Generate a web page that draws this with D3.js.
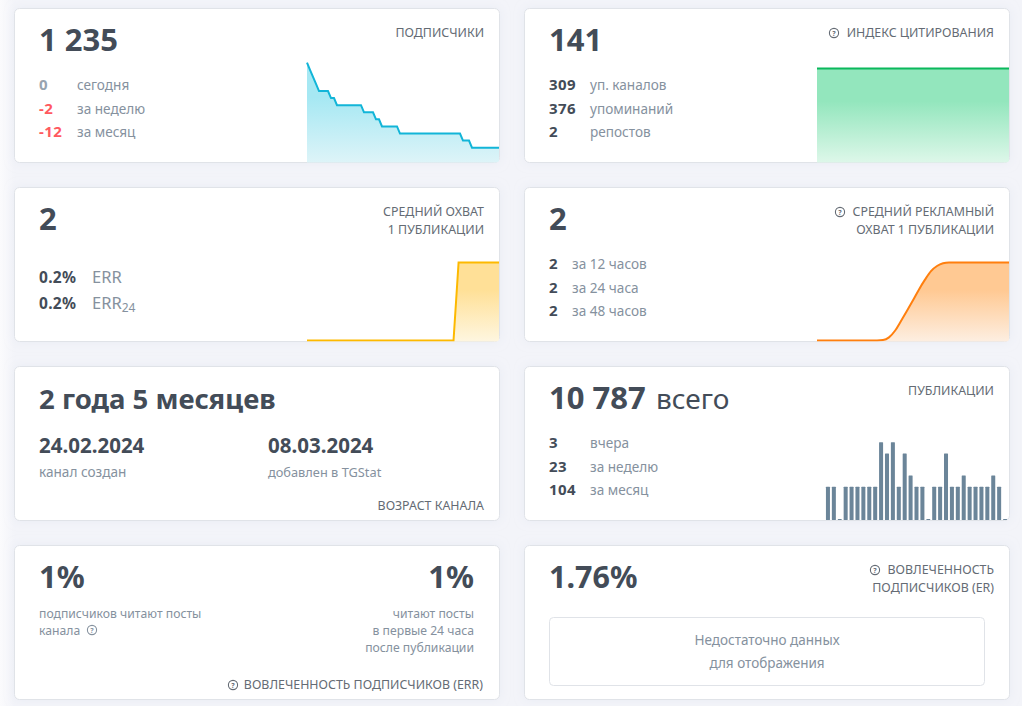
<!DOCTYPE html>
<html>
<head>
<meta charset="utf-8">
<script src="https://cdn.jsdelivr.net/npm/d3@7"></script>
<style>
  html, body { margin: 0; padding: 0; overflow: hidden; }
  body { background: linear-gradient(to right, #fbfbfd 0, #f3f4f9 14px); }
  svg { display: block; }
  text { font-family: "Noto Sans", "Open Sans", sans-serif; }
  .big { font-size: 31px; font-weight: 700; fill: #434c58; }
  .age { font-size: 27.5px; font-weight: 700; fill: #434c58; }
  .big-light { font-size: 28px; font-weight: 400; fill: #434c58; }
  .date { font-size: 20.5px; font-weight: 700; fill: #434c58; }
  .num { font-size: 15px; font-weight: 700; fill: #434c58; letter-spacing: 0.4px; }
  .pct { font-size: 15.5px; font-weight: 700; fill: #434c58; letter-spacing: 0.3px; }
  .lab { font-size: 13.6px; fill: #85919e; }
  .err { font-size: 16.5px; fill: #85919e; }
  .small { font-size: 12.2px; fill: #85919e; }
  .cap { font-size: 12.4px; fill: #646b74; }
  .note { font-size: 13.5px; fill: #85919e; }
</style>
</head>
<body>
<div id="chart"></div>
<script>
var svgWidth = 1022;
var svgHeight = 706;

// subscribers over the last period
var subscribers = [1247, 1246, 1245, 1244, 1243, 1243, 1243, 1243, 1242, 1242,
  1241, 1241, 1241, 1241, 1241, 1241, 1241, 1241, 1241, 1240,
  1240, 1240, 1240, 1239, 1239, 1238, 1238, 1238, 1238, 1238,
  1238, 1237, 1237, 1237, 1237, 1237, 1237, 1237, 1237, 1237,
  1237, 1237, 1237, 1237, 1237, 1237, 1237, 1237, 1237, 1237,
  1237, 1237, 1236, 1236, 1236, 1235, 1235, 1235, 1235, 1235,
  1235, 1235, 1235, 1235, 1235];
var citation = [141, 141, 141, 141, 141, 141, 141, 141, 141, 141, 141, 141];
var reach = [0, 0, 0, 0, 0, 0, 0, 0, 0, 0, 0, 0, 0, 0, 0, 0, 0, 0, 0, 0,
  0, 0, 0, 0, 0, 0, 0, 0, 0, 0, 2, 2, 2, 2, 2, 2, 2, 2, 2];
var adReach = [0, 0, 0, 0, 0, 0, 0, 0, 0, 0, 0, 0.01, 0.08, 0.25, 0.5, 0.76, 1.03,
  1.31, 1.56, 1.78, 1.91, 1.98, 2, 2, 2, 2, 2, 2, 2, 2, 2, 2, 2];
var posts = [3, 3, 0, 3, 3, 3, 3, 3, 3, 7, 6, 7, 3, 6, 4, 3, 3, 0, 3, 3, 6, 3, 3, 4, 3, 3, 3, 3, 4, 3, 0];

var subscriberStats = ["0", "-2", "-12"];
var subscriberLabels = ["сегодня", "за неделю", "за месяц"];
var citationStats = ["309", "376", "2"];
var citationLabels = ["уп. каналов", "упоминаний", "репостов"];
var adStats = ["2", "2", "2"];
var adLabels = ["за 12 часов", "за 24 часа", "за 48 часов"];
var postStats = ["3", "23", "104"];
var postLabels = ["вчера", "за неделю", "за месяц"];

var svg = d3.select("#chart")
  .append("svg")
  .attr("width", svgWidth)
  .attr("height", svgHeight);

var defs = svg.append("defs");

// soft card shadow
var shadow = defs.append("filter").attr("id", "shadow")
  .attr("x", "-5%").attr("y", "-15%").attr("width", "110%").attr("height", "130%");
shadow.append("feDropShadow")
  .attr("dx", 0).attr("dy", 0).attr("stdDeviation", 5)
  .attr("flood-color", "#dfe3ee").attr("flood-opacity", 0.5);

var cardW = 484;
var cardH = 153;
var leftX = 15;
var rightX = 525;
var rowY = [9, 188, 367, 546];

function card(x, y, id) {
  var g = svg.append("g").attr("transform", `translate(${x}, ${y})`);
  g.append("rect")
    .attr("x", -0.5).attr("y", -0.5)
    .attr("width", cardW + 1).attr("height", cardH + 1)
    .attr("rx", 5)
    .attr("fill", "#fff")
    .attr("stroke", "#e0e3e8")
    .attr("filter", "url(#shadow)");
  defs.append("clipPath").attr("id", id)
    .append("rect")
    .attr("x", 0).attr("y", 0)
    .attr("width", cardW + 0.5).attr("height", cardH + 0.5)
    .attr("rx", 4);
  return g;
}

function label(g, x, y, cls, str, anchor) {
  return g.append("text")
    .attr("x", x).attr("y", y)
    .attr("class", cls)
    .attr("text-anchor", anchor || "start")
    .text(str);
}

function helpIcon(g, cx, cy, color) {
  g.append("circle")
    .attr("cx", cx).attr("cy", cy).attr("r", 4.6)
    .attr("fill", "none")
    .attr("stroke", color)
    .attr("stroke-width", 1.1);
  g.append("text")
    .attr("x", cx).attr("y", cy + 2.6)
    .attr("text-anchor", "middle")
    .attr("font-size", 7)
    .attr("font-weight", 700)
    .attr("fill", color)
    .text("?");
}

function statRows(g, stats, labels, labelX, colors) {
  stats.forEach(function(d, i) {
    label(g, 24, 81 + i * 23.5, "num", d)
      .style("fill", colors ? colors[i] : null);
    label(g, labelX, 81 + i * 23.5, "lab", labels[i]);
  });
}

// area + line sparkline sitting in the right part of a card
function sparkline(g, clipId, values, opt) {
  var x = d3.scaleLinear()
    .domain([0, values.length - 1])
    .range([292, cardW]);
  var y = d3.scaleLinear()
    .domain(opt.domain)
    .range(opt.range);

  var gradId = clipId + "-grad";
  var grad = defs.append("linearGradient")
    .attr("id", gradId)
    .attr("gradientUnits", "userSpaceOnUse")
    .attr("x1", 0).attr("x2", 0)
    .attr("y1", opt.range[1]).attr("y2", cardH);
  grad.append("stop").attr("offset", "0%").attr("stop-color", opt.top);
  grad.append("stop").attr("offset", "35%").attr("stop-color", opt.top);
  grad.append("stop").attr("offset", "100%").attr("stop-color", opt.bottom);

  var curve = opt.curve || d3.curveLinear;
  var area = d3.area()
    .x(function(d, i) { return x(i); })
    .y0(cardH + 1)
    .y1(function(d) { return y(d); })
    .curve(curve);
  var line = d3.line()
    .x(function(d, i) { return x(i); })
    .y(function(d) { return y(d); })
    .curve(curve);

  var chart = g.append("g").attr("clip-path", `url(#${clipId})`);
  chart.append("path").datum(values)
    .attr("d", area)
    .attr("fill", `url(#${gradId})`);
  chart.append("path").datum(values)
    .attr("d", line)
    .attr("fill", "none")
    .attr("stroke", opt.color)
    .attr("stroke-width", 2);
}

// --- row 1 left: subscribers
var c1 = card(leftX, rowY[0], "c1");
label(c1, 24, 42, "big", "1 235");
label(c1, 469, 28, "cap", "ПОДПИСЧИКИ", "end");
statRows(c1, subscriberStats, subscriberLabels, 62, ["#97a4b0", "#ff5a5f", "#ff5a5f"]);
sparkline(c1, "c1", subscribers, {
  domain: [1235, 1247], range: [138.7, 53.7],
  color: "#12b5d8", top: "#a6e8f3", bottom: "#ddf4f8"
});

// --- row 1 right: citation index
var c2 = card(rightX, rowY[0], "c2");
label(c2, 24, 42, "big", "141");
label(c2, 469, 28, "cap", "ИНДЕКС ЦИТИРОВАНИЯ", "end");
helpIcon(c2, 309, 24, "#646b74");
statRows(c2, citationStats, citationLabels, 65);
sparkline(c2, "c2", citation, {
  domain: [0, 141], range: [153, 59.5],
  color: "#0bb85c", top: "#93e6bd", bottom: "#ddf7e9"
});

// --- row 2 left: average reach
var c3 = card(leftX, rowY[1], "c3");
label(c3, 24, 42, "big", "2");
label(c3, 469, 28, "cap", "СРЕДНИЙ ОХВАТ", "end");
label(c3, 469, 46, "cap", "1 ПУБЛИКАЦИИ", "end");
label(c3, 24, 95, "pct", "0.2%");
label(c3, 77, 95, "err", "ERR");
label(c3, 24, 121, "pct", "0.2%");
var err24 = label(c3, 77, 121, "err", "ERR");
err24.append("tspan").attr("dy", 3).style("font-size", "12px").text("24");
sparkline(c3, "c3", reach, {
  domain: [0, 2], range: [152.5, 74.5],
  color: "#fdb900", top: "#ffe097", bottom: "#fef6df"
});

// --- row 2 right: average ad reach
var c4 = card(rightX, rowY[1], "c4");
label(c4, 24, 42, "big", "2");
label(c4, 469, 28, "cap", "СРЕДНИЙ РЕКЛАМНЫЙ", "end");
label(c4, 469, 46, "cap", "ОХВАТ 1 ПУБЛИКАЦИИ", "end");
helpIcon(c4, 315, 24, "#646b74");
statRows(c4, adStats, adLabels, 47);
sparkline(c4, "c4", adReach, {
  domain: [0, 2], range: [152.5, 74.5],
  color: "#ff7f0e", top: "#ffc993", bottom: "#fdeee0",
  curve: d3.curveMonotoneX
});

// --- row 3 left: channel age
var c5 = card(leftX, rowY[2], "c5");
label(c5, 24, 42, "age", "2 года 5 месяцев");
label(c5, 24, 86, "date", "24.02.2024");
label(c5, 24, 110, "lab", "канал создан");
label(c5, 253, 86, "date", "08.03.2024");
label(c5, 253, 110, "lab", "добавлен в TGStat").style("font-size", "12.8px");
label(c5, 469, 143, "cap", "ВОЗРАСТ КАНАЛА", "end");

// --- row 3 right: publications
var c6 = card(rightX, rowY[2], "c6");
label(c6, 24, 42, "big", "10 787");
label(c6, 131, 42, "big-light", "всего");
label(c6, 469, 28, "cap", "ПУБЛИКАЦИИ", "end");
statRows(c6, postStats, postLabels, 65);

var xBar = d3.scaleBand()
  .domain(d3.range(posts.length))
  .range([300, 483])
  .paddingInner(0.32)
  .paddingOuter(0.16);
var yBar = d3.scaleLinear()
  .domain([0, d3.max(posts)])
  .range([153, 75.3]);

c6.append("g").attr("clip-path", "url(#c6)")
  .selectAll("rect")
  .data(posts)
  .enter()
  .append("rect")
  .attr("x", function(d, i) { return xBar(i); })
  .attr("y", function(d) { return Math.min(yBar(d), 152); })
  .attr("width", xBar.bandwidth())
  .attr("height", function(d) { return Math.max(153 - yBar(d), 1); })
  .attr("rx", 0.5)
  .attr("fill", "#6b8599");

// --- row 4 left: ERR
var c7 = card(leftX, rowY[3], "c7");
label(c7, 24, 42, "big", "1%");
label(c7, 459, 42, "big", "1%", "end");
label(c7, 24, 72, "small", "подписчиков читают посты");
label(c7, 24, 89, "small", "канала");
helpIcon(c7, 77, 84, "#85919e");
label(c7, 459, 72, "small", "читают посты", "end");
label(c7, 459, 89, "small", "в первые 24 часа", "end");
label(c7, 459, 106, "small", "после публикации", "end");
label(c7, 468, 143, "cap", "ВОВЛЕЧЕННОСТЬ ПОДПИСЧИКОВ (ERR)", "end");
helpIcon(c7, 218, 139, "#646b74");

// --- row 4 right: ER
var c8 = card(rightX, rowY[3], "c8");
label(c8, 24, 42, "big", "1.76%").style("font-size", "30.5px");
label(c8, 469, 28, "cap", "ВОВЛЕЧЕННОСТЬ", "end");
label(c8, 469, 46, "cap", "ПОДПИСЧИКОВ (ER)", "end");
helpIcon(c8, 350, 24, "#646b74");
c8.append("rect")
  .attr("x", 24.5).attr("y", 71.5)
  .attr("width", 435).attr("height", 68)
  .attr("rx", 4)
  .attr("fill", "#fff")
  .attr("stroke", "#e0e3e8");
label(c8, 242, 99, "note", "Недостаточно данных", "middle");
label(c8, 242, 122, "note", "для отображения", "middle");
</script>
</body>
</html>
